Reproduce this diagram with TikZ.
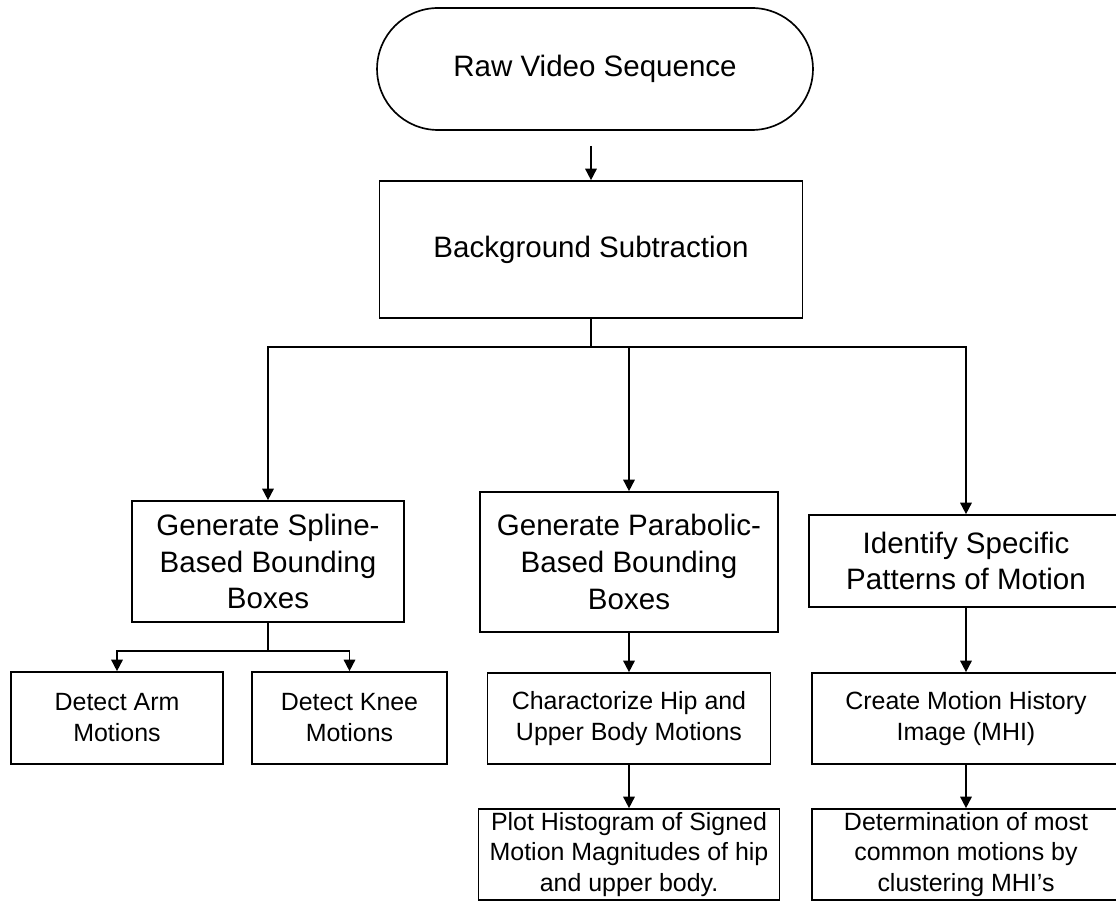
\documentclass[tikz,border=0pt]{standalone}
\usepackage{fontspec}
\setmainfont{Liberation Sans}
\usetikzlibrary{arrows.meta,positioning}

\begin{document}
\begin{tikzpicture}[x=0.02cm,y=-0.02cm,>={Triangle[length=0.23cm,width=0.23cm]},
    line width=0.95pt,
    bigbox/.style={draw,align=center,inner sep=0pt,font=\fontsize{16.8}{21}\selectfont},
    smallbox/.style={draw,align=center,inner sep=0pt,font=\fontsize{14.2}{17.6}\selectfont}]
  \useasboundingbox (0,0) rectangle (1116,901);
  % input and first stage
  \node[bigbox,rounded corners=1.22cm,minimum width=8.72cm,minimum height=2.44cm]
       (raw) at (595,69) {Raw Video Sequence};
  \node[bigbox,minimum width=8.46cm,minimum height=2.74cm]
       (bgsub) at (591,249.5) {Background Subtraction};
  % three branches
  \node[bigbox,minimum width=5.44cm,minimum height=2.42cm]
       (spline) at (268,561.5) {Generate Spline-\\Based Bounding\\Boxes};
  \node[bigbox,minimum width=5.96cm,minimum height=2.80cm]
       (parab) at (629,562) {Generate Parabolic-\\Based Bounding\\Boxes};
  \node[bigbox,minimum width=6.28cm,minimum height=1.84cm]
       (ident) at (966,561) {Identify Specific\\Patterns of Motion};
  % second level
  \node[smallbox,minimum width=4.24cm,minimum height=1.84cm]
       (arm) at (117,718) {Detect Arm\\Motions};
  \node[smallbox,minimum width=3.90cm,minimum height=1.84cm]
       (knee) at (349.5,718) {Detect Knee\\Motions};
  \node[smallbox,minimum width=5.66cm,minimum height=1.82cm]
       (charac) at (629,718.5) {Charactorize Hip and\\Upper Body Motions};
  \node[smallbox,minimum width=6.16cm,minimum height=1.82cm]
       (mhi) at (966,718.5) {Create Motion History\\Image (MHI)};
  % last level
  \node[smallbox,minimum width=6.02cm,minimum height=1.82cm]
       (plot) at (629,854.5) {Plot Histogram of Signed\\Motion Magnitudes of hip\\and upper body.};
  \node[smallbox,minimum width=6.16cm,minimum height=1.82cm]
       (determ) at (966,854.5) {Determination of most\\common motions by\\clustering MHI’s};
  % connectors
  \coordinate (bus) at (591,347);
  \coordinate (sbus) at (268,651);
  \draw[->,shorten <=0.3cm] (raw.south -| bgsub) -- (bgsub);
  \draw (bgsub) -- (bus);
  \draw[->] (bus) -| (spline);
  \draw[->] (bus) -| (parab);
  \draw[->] (bus) -| (ident);
  \draw (spline) -- (sbus);
  \draw[->] (sbus) -| (arm);
  \draw[->] (sbus) -| (knee);
  \draw[->] (parab) -- (charac);
  \draw[->] (charac) -- (plot);
  \draw[->] (ident) -- (mhi);
  \draw[->] (mhi) -- (determ);
\end{tikzpicture}
\end{document}
